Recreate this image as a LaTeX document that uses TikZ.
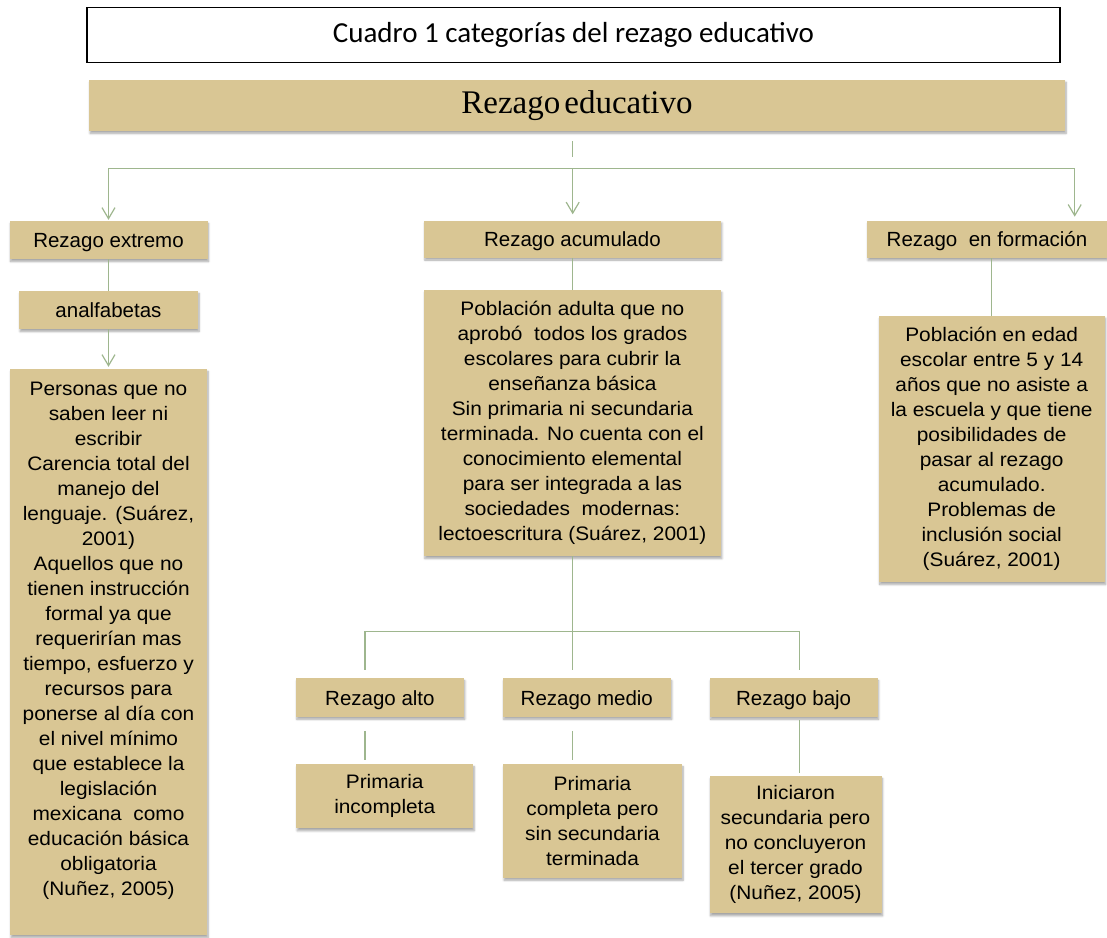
\documentclass[tikz,border=0pt]{standalone}
\usepackage{fontspec}
\setmainfont{Liberation Sans}
\newfontfamily\titlefont{Carlito}
\newfontfamily\headfont{Liberation Serif}
\newfontfamily\bodyfont[FakeStretch=1.07]{Liberation Sans}
\usetikzlibrary{arrows.meta, shadows.blur}
\definecolor{parchment}{RGB}{217,198,148}
\definecolor{sage}{RGB}{158,182,142}

\begin{document}
\begin{tikzpicture}[x=1pt, y=-1pt,
    tanbox/.style={fill=parchment, inner sep=0pt,
        blur shadow={shadow xshift=1pt, shadow yshift=-2.5pt, shadow blur steps=6, shadow opacity=35}},
    tag/.style={tanbox, text height=15pt, text depth=0pt, font=\fontsize{20.5}{24}\selectfont},
    textbox/.style={tanbox, align=center, font=\bodyfont\fontsize{19.5}{25}\selectfont},
    link/.style={draw=sage, line width=1.2pt},
    linkarrow/.style={link, -{Straight Barb[length=11pt, width=13pt]}}]
    \useasboundingbox (0,0) rectangle (1107,937);

    \node[draw, line width=1.2pt, minimum width=973pt, minimum height=55pt,
        font=\titlefont\fontsize{29}{34}\selectfont] (title) at (573.4,34.8) {Cuadro 1 categorías del rezago educativo};
    \node[tanbox, minimum width=976pt, minimum height=51pt, yshift=-2.5pt,
        font=\headfont\fontsize{33}{38}\selectfont] (rezago) at (577,102.8) {Rezago\hspace{4pt}educativo};

    \node[tag, minimum width=198pt, minimum height=38pt] (extremo) at (108.5,240) {Rezago extremo};
    \node[tag, minimum width=297pt, minimum height=37pt] (acumulado) at (572.4,239) {Rezago acumulado};
    \node[tag, minimum width=240pt, minimum height=37pt] (formacion) at (987,239.4) {Rezago~ en formación};

    \node[tag, minimum width=179pt, minimum height=38pt] (analfabetas) at (108.5,310) {analfabetas};
    \node[textbox, minimum width=197pt, minimum height=566pt, text depth=26pt] (personas) at (108.5,652)
        {Personas que no\\saben leer ni\\escribir\\Carencia total del\\manejo del\\lenguaje. (Suárez,\\2001)\\Aquellos que no\\tienen instrucción\\formal ya que\\requerirían mas\\tiempo, esfuerzo y\\recursos para\\ponerse al día con\\el nivel mínimo\\que establece la\\legislación\\mexicana~ como\\educación básica\\obligatoria\\(Nuñez, 2005)};
    \node[textbox, minimum width=297pt, minimum height=266pt] (poblacion) at (572.4,423)
        {Población adulta que no\\aprobó~ todos los grados\\escolares para cubrir la\\enseñanza básica\\Sin primaria ni secundaria\\terminada. No cuenta con el\\conocimiento elemental\\para ser integrada a las\\sociedades~ modernas:\\lectoescritura (Suárez, 2001)};
    \node[textbox, minimum width=226pt, minimum height=266pt] (formtext) at (991.7,448.9)
        {Población en edad\\escolar entre 5 y 14\\años que no asiste a\\la escuela y que tiene\\posibilidades de\\pasar al rezago\\acumulado.\\Problemas de\\inclusión social\\(Suárez, 2001)};

    \node[tag, minimum width=168pt, minimum height=38.4pt] (alto) at (379.9,697.5) {Rezago alto};
    \node[tag, minimum width=168pt, minimum height=38.4pt] (medio) at (586.8,697.5) {Rezago medio};
    \node[tag, minimum width=168pt, minimum height=38.4pt] (bajo) at (793.6,697.5) {Rezago bajo};

    \node[textbox, minimum width=177pt, minimum height=64pt] (incompleta) at (384.7,796.3) {Primaria\\incompleta};
    \node[textbox, minimum width=179pt, minimum height=113.4pt] (completa) at (592.5,821) {Primaria\\completa pero\\sin secundaria\\terminada};
    \node[textbox, minimum width=172pt, minimum height=137.3pt] (iniciaron) at (795.5,844.7) {Iniciaron\\secundaria pero\\no concluyeron\\el tercer grado\\(Nuñez, 2005)};

    \coordinate (hub) at (572.7,168.3);
    \coordinate (split) at (572.7,631.7);

    \draw[link, shorten <=10pt, shorten >=11pt] (rezago.south -| hub) -- (hub);
    \draw[linkarrow, shorten >=1pt] (hub) -| (extremo.north);
    \draw[linkarrow, shorten >=6pt] (hub) -- (hub |- acumulado.north);
    \draw[linkarrow, shorten >=4pt] (hub) -| ([xshift=87.7pt]formacion.north);

    \draw[link] (extremo) -- (analfabetas);
    \draw[linkarrow, shorten >=2pt] (analfabetas) -- (personas);
    \draw[link] (acumulado) -- (poblacion);
    \draw[link] (formacion.south -| formtext.north) -- (formtext.north);

    \draw[link, shorten >=8.3pt] (poblacion.south) -- (poblacion.south |- medio.north);
    \draw[link, shorten >=8.3pt] (split) -| ([xshift=-15pt]alto.north);
    \draw[link, shorten >=8.3pt] (split) -| ([xshift=6pt]bajo.north);

    \draw[link, shorten <=14pt, shorten >=4pt] ([xshift=-15pt]alto.south) -- ([xshift=-15pt]alto.south |- incompleta.north);
    \draw[link, shorten <=14pt, shorten >=4pt] (medio.south -| poblacion.south) -- (poblacion.south |- completa.north);
    \draw[link, shorten <=3pt, shorten >=3pt] ([xshift=6pt]bajo.south) -- ([xshift=6pt]bajo.south |- iniciaron.north);
\end{tikzpicture}
\end{document}
